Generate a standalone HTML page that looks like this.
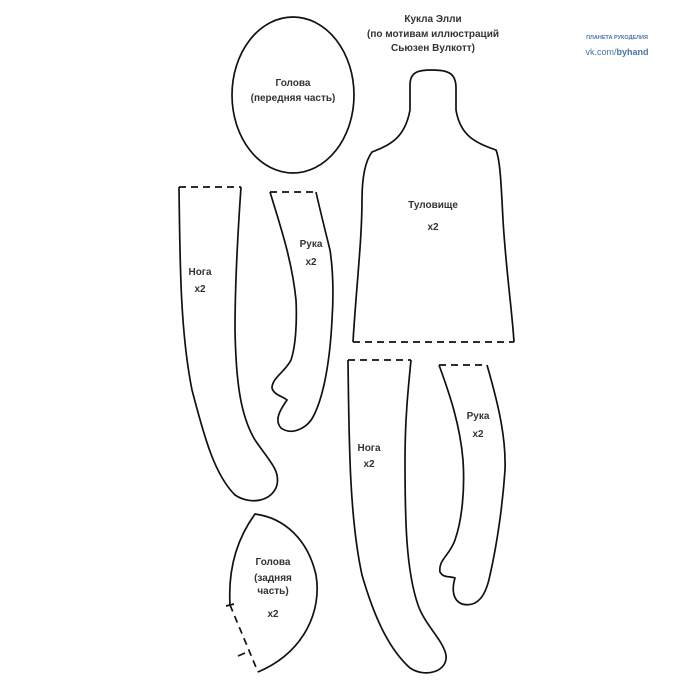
<!DOCTYPE html>
<html><head><meta charset="utf-8"><style>
body{margin:0;background:#fff}
svg{display:block}
text{font-family:"Liberation Sans","DejaVu Sans",sans-serif;font-size:10px;font-weight:bold;fill:#333;text-anchor:middle}
.s{fill:none;stroke:#111;stroke-width:1.7}
.d{fill:none;stroke:#111;stroke-width:1.7;stroke-dasharray:7 5}
</style></head><body>
<svg width="690" height="690" viewBox="0 0 690 690" xmlns="http://www.w3.org/2000/svg">
<rect width="690" height="690" fill="#fff"/>
<text x="433" y="22">Кукла Элли</text>
<text x="433" y="37">(по мотивам иллюстраций</text>
<text x="433" y="51">Сьюзен Вулкотт)</text>
<text x="617" y="39" style="font-size:5.5px;font-weight:bold;fill:#4a76a8">ПЛАНЕТА РУКОДЕЛИЯ</text>
<text x="617" y="55" style="font-size:9px;font-weight:normal;fill:#4a76a8">vk.com/<tspan style="font-weight:bold">byhand</tspan></text>

<ellipse class="s" cx="293" cy="95" rx="61" ry="78"/>
<text x="293" y="86">Голова</text>
<text x="293" y="101">(передняя часть)</text>

<path class="s" d="M353,342 C356,290 362,240 362,200 C362,175 366,160 372,152 C390,145 405,138 410,110 L410,85 C410,72 418,70 432,70 C448,70 456,73 456,88 L456,110 C460,135 475,143 496,150 C500,160 501,180 503,220 C506,270 512,310 514,342"/>
<path class="d" d="M353,342 L514,342"/>
<text x="433" y="208">Туловище</text>
<text x="433" y="230">x2</text>

<path class="d" d="M179,187 L241,187"/>
<path class="s" d="M179,187 C180,260 180,330 192,390 C205,440 215,475 235,495 C250,505 272,502 277,485 C280,470 270,462 255,440 C240,415 236,380 235,330 C235,280 238,230 241,187"/>
<text x="200" y="275">Нога</text>
<text x="200" y="292">x2</text>

<path class="d" d="M270,192 L316,192"/>
<path class="s" d="M270,192 C280,225 292,260 296,300 C297,320 296,345 291,360 C285,372 272,378 272,388 C274,395 282,396 287,400 C280,410 274,420 281,428 C292,436 308,428 314,415 C324,395 330,360 332,320 C334,290 333,270 330,250 C325,230 320,210 316,192"/>
<text x="311" y="247">Рука</text>
<text x="311" y="265">x2</text>

<path class="d" d="M348,360 L411,360"/>
<path class="s" d="M348,360 C349,450 350,520 362,575 C375,620 390,650 410,668 C425,678 448,672 446,655 C443,640 425,625 418,605 C406,570 405,520 405,460 C405,420 408,390 411,360"/>
<text x="369" y="451">Нога</text>
<text x="369" y="467">x2</text>

<path class="d" d="M439,365 L487,365"/>
<path class="s" d="M439,365 C450,395 460,425 463,460 C465,490 462,520 455,540 C450,555 438,560 440,572 C443,578 450,576 455,578 C452,588 452,600 462,604 C478,608 486,595 490,575 C498,540 503,500 505,470 C506,440 500,410 487,365"/>
<text x="478" y="419">Рука</text>
<text x="478" y="437">x2</text>

<path class="s" d="M230,605 C228,570 236,540 255,514 C285,518 308,540 316,575 C322,610 305,652 258,672"/>
<path class="d" d="M230,605 L258,672"/>
<path class="s" d="M226,606 L234,604 M238,656 L245,653" stroke-width="1.2"/>
<text x="273" y="565">Голова</text>
<text x="273" y="581">(задняя</text>
<text x="273" y="594">часть)</text>
<text x="273" y="617">x2</text>
</svg>
</body></html>
